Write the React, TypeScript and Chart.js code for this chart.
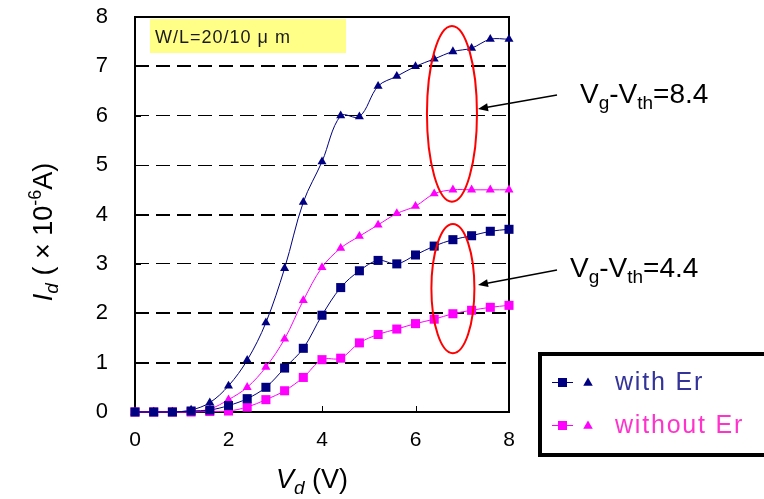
import { useEffect, useRef } from "react";
import { Chart, registerables } from "chart.js";

Chart.register(...registerables);

// Drain voltage Vd (V)
const VD = [0, 0.4, 0.8, 1.2, 1.6, 2.0, 2.4, 2.8, 3.2, 3.6, 4.0, 4.4, 4.8, 5.2, 5.6, 6.0, 6.4, 6.8, 7.2, 7.6, 8.0];
// Id (x10^-6 A), Vg-Vth = 4.4 (squares)
const WITH_ER_44 = [0, 0, 0, 0.02, 0.04, 0.13, 0.27, 0.5, 0.89, 1.29, 1.96, 2.52, 2.86, 3.07, 3.0, 3.18, 3.36, 3.49, 3.57, 3.66, 3.7];
const WITHOUT_ER_44 = [0, 0, 0, 0, 0.01, 0.02, 0.1, 0.25, 0.43, 0.7, 1.06, 1.09, 1.4, 1.57, 1.68, 1.79, 1.88, 1.99, 2.06, 2.12, 2.16];
// Id (x10^-6 A), Vg-Vth = 8.4 (triangles)
const WITH_ER_84 = [0, 0, 0, 0.04, 0.19, 0.53, 1.05, 1.81, 2.91, 4.25, 5.07, 6.0, 5.98, 6.6, 6.8, 7.0, 7.15, 7.3, 7.37, 7.55, 7.55];
const WITHOUT_ER_84 = [0, 0, 0, 0.01, 0.06, 0.25, 0.5, 0.91, 1.48, 2.26, 2.93, 3.32, 3.56, 3.79, 4.02, 4.17, 4.42, 4.5, 4.5, 4.5, 4.5];

const X_TICKS = [0, 2, 4, 6, 8];
const LEGEND_LABELS = ["with Er", "without Er"];
const BOX_LABEL = "W/L=20/10 μ m";

const NAVY = "#000080";
const MAGENTA = "#FF00FF";
const FAMILY = '"Liberation Sans", Arial, sans-serif';

type Seg = { t: string; size: number; italic?: boolean; dy?: number };

function richWidth(ctx: CanvasRenderingContext2D, segs: Seg[]) {
  let w = 0;
  for (const s of segs) {
    ctx.font = `${s.italic ? "italic " : ""}${s.size}px ${FAMILY}`;
    w += ctx.measureText(s.t).width;
  }
  return w;
}

function drawRich(ctx: CanvasRenderingContext2D, segs: Seg[], x: number, y: number, align: "left" | "center") {
  const total = richWidth(ctx, segs);
  let cx = align === "center" ? x - total / 2 : x;
  ctx.textAlign = "left";
  ctx.textBaseline = "alphabetic";
  for (const s of segs) {
    ctx.font = `${s.italic ? "italic " : ""}${s.size}px ${FAMILY}`;
    ctx.fillText(s.t, cx, y + (s.dy || 0));
    cx += ctx.measureText(s.t).width;
  }
}

function arrow(ctx: CanvasRenderingContext2D, x1: number, y1: number, x2: number, y2: number) {
  const ang = Math.atan2(y2 - y1, x2 - x1);
  const hl = 10, hw = 4;
  ctx.strokeStyle = "#000";
  ctx.fillStyle = "#000";
  ctx.lineWidth = 1.5;
  ctx.beginPath();
  ctx.moveTo(x1, y1);
  ctx.lineTo(x2 - Math.cos(ang) * hl * 0.8, y2 - Math.sin(ang) * hl * 0.8);
  ctx.stroke();
  ctx.beginPath();
  ctx.moveTo(x2, y2);
  ctx.lineTo(x2 - Math.cos(ang) * hl - Math.sin(ang) * hw, y2 - Math.sin(ang) * hl + Math.cos(ang) * hw);
  ctx.lineTo(x2 - Math.cos(ang) * hl + Math.sin(ang) * hw, y2 - Math.sin(ang) * hl - Math.cos(ang) * hw);
  ctx.closePath();
  ctx.fill();
}

function marker(ctx: CanvasRenderingContext2D, kind: "rect" | "triangle", x: number, y: number, color: string) {
  ctx.fillStyle = color;
  ctx.beginPath();
  if (kind === "rect") {
    ctx.rect(x - 4.5, y - 4.5, 9, 9);
  } else {
    const r = 5.5;
    ctx.moveTo(x, y - r);
    ctx.lineTo(x + r * 0.866, y + r * 0.5);
    ctx.lineTo(x - r * 0.866, y + r * 0.5);
    ctx.closePath();
  }
  ctx.fill();
}

const decorations = {
  id: "decorations",
  beforeDatasetsDraw(chart: any) {
    const { ctx, chartArea: a, scales } = chart;
    const xs = scales.x, ys = scales.y;
    ctx.save();
    // W/L box
    ctx.fillStyle = "#FFFF88";
    ctx.fillRect(150, 19, 196, 34);
    ctx.fillStyle = "#1a1a1a";
    ctx.font = `18px ${FAMILY}`;
    (ctx as any).letterSpacing = "1px";
    ctx.textAlign = "left";
    ctx.textBaseline = "alphabetic";
    ctx.fillText(BOX_LABEL, 155, 43);
    (ctx as any).letterSpacing = "0px";
    // frame
    ctx.strokeStyle = "#000";
    ctx.lineWidth = 2;
    ctx.strokeRect(a.left, a.top, a.width, a.height);
    // inner tick marks
    ctx.lineWidth = 1;
    for (const v of X_TICKS.slice(1, -1)) {
      const px = Math.round(xs.getPixelForValue(v)) + 0.5;
      ctx.beginPath();
      ctx.moveTo(px, a.bottom);
      ctx.lineTo(px, a.bottom - 6);
      ctx.stroke();
    }
    for (let v = 1; v < 8; v++) {
      const py = Math.round(ys.getPixelForValue(v)) + 0.5;
      ctx.beginPath();
      ctx.moveTo(a.left, py);
      ctx.lineTo(a.left + 6, py);
      ctx.stroke();
    }
    ctx.restore();
  },
  afterDatasetsDraw(chart: any) {
    const { ctx, scales } = chart;
    const xs = scales.x, ys = scales.y;
    ctx.save();
    // ellipses (data coordinates)
    const ell = (cx: number, cy: number, rx: number, ry: number) => {
      const px = xs.getPixelForValue(cx), py = ys.getPixelForValue(cy);
      const prx = xs.getPixelForValue(cx + rx) - px;
      const pry = py - ys.getPixelForValue(cy + ry);
      ctx.strokeStyle = "#FF0000";
      ctx.lineWidth = 2;
      ctx.beginPath();
      ctx.ellipse(px, py, prx, pry, 0, 0, Math.PI * 2);
      ctx.stroke();
    };
    ell(6.78, 6.04, 0.535, 1.78);
    ell(6.8, 2.5, 0.46, 1.31);
    // arrows
    arrow(ctx, 557, 95, 478, 109);
    arrow(ctx, 557, 270, 478, 285);
    // labels
    ctx.fillStyle = "#000";
    drawRich(ctx, [
      { t: "V", size: 28 }, { t: "g", size: 19, dy: 6 }, { t: "-V", size: 28 }, { t: "th", size: 19, dy: 6 }, { t: "=8.4", size: 28 },
    ], 580, 103, "left");
    drawRich(ctx, [
      { t: "V", size: 28 }, { t: "g", size: 19, dy: 6 }, { t: "-V", size: 28 }, { t: "th", size: 19, dy: 6 }, { t: "=4.4", size: 28 },
    ], 570, 277, "left");

    // legend
    ctx.fillStyle = "#fff";
    ctx.fillRect(540, 354, 240, 101);
    ctx.strokeStyle = "#000";
    ctx.lineWidth = 4;
    ctx.strokeRect(540, 354, 240, 101);
    const rows = [
      { y: 382, c: NAVY, tc: "#333399" },
      { y: 425, c: MAGENTA, tc: "#FF33CC" },
    ];
    rows.forEach((r, i) => {
      ctx.strokeStyle = r.c;
      ctx.lineWidth = 1;
      ctx.beginPath();
      ctx.moveTo(552, r.y + 0.5);
      ctx.lineTo(573, r.y + 0.5);
      ctx.stroke();
      marker(ctx, "rect", 562.5, r.y + 0.5, r.c);
      marker(ctx, "triangle", 588, r.y + 1, r.c);
      ctx.fillStyle = r.tc;
      ctx.font = `25px ${FAMILY}`;
      (ctx as any).letterSpacing = "1.8px";
      ctx.textAlign = "left";
      ctx.textBaseline = "alphabetic";
      ctx.fillText(LEGEND_LABELS[i], 615, r.y + 8);
      (ctx as any).letterSpacing = "0px";
    });

    // axis titles
    ctx.fillStyle = "#000";
    drawRich(ctx, [
      { t: "V", size: 27, italic: true }, { t: "d", size: 19, italic: true, dy: 6 }, { t: " (V)", size: 27 },
    ], 312, 488, "center");
    ctx.translate(52, 232);
    ctx.rotate(-Math.PI / 2);
    drawRich(ctx, [
      { t: "I", size: 27, italic: true }, { t: "d", size: 19, italic: true, dy: 6 }, { t: " ( × 10", size: 27 },
      { t: "-6", size: 18, dy: -11 }, { t: "A)", size: 27 },
    ], 0, 0, "center");
    ctx.restore();
  },
};

export default function App() {
  const ref = useRef<HTMLCanvasElement>(null);
  useEffect(() => {
    const canvas = ref.current!;
    const mk = (vals: number[], color: string, style: "rect" | "triangle") => ({
      data: VD.map((x, i) => ({ x, y: vals[i] })),
      showLine: true,
      borderColor: color,
      backgroundColor: color,
      borderWidth: 1,
      tension: 0.35,
      pointStyle: style,
      pointRadius: style === "rect" ? 6.4 : 5.2,
      pointBorderWidth: 0,
      pointBackgroundColor: color,
      clip: false as any,
    });
    const chart = new Chart(canvas, {
      type: "scatter",
      data: {
        datasets: [
          mk(WITH_ER_44, NAVY, "rect"),
          mk(WITHOUT_ER_44, MAGENTA, "rect"),
          mk(WITH_ER_84, NAVY, "triangle"),
          mk(WITHOUT_ER_84, MAGENTA, "triangle"),
        ],
      },
      options: {
        animation: false,
        responsive: false,
        layout: { padding: { top: 17, right: 255, left: 0, bottom: 0 }, autoPadding: false },
        plugins: { legend: { display: false }, tooltip: { enabled: false } },
        scales: {
          x: {
            type: "linear",
            min: 0,
            max: 8,
            afterFit: (s: any) => { s.height = 87; },
            afterBuildTicks: (s: any) => { s.ticks = X_TICKS.map((v) => ({ value: v })); },
            ticks: { padding: 0, font: { size: 21, family: FAMILY }, color: "#000", maxRotation: 0 },
            grid: { display: true, drawOnChartArea: false, drawTicks: true, tickLength: 16, tickColor: "rgba(0,0,0,0)" },
            border: { display: false },
          },
          y: {
            min: 0,
            max: 8,
            afterFit: (s: any) => { s.width = 135; },
            ticks: { stepSize: 1, padding: 0, font: { size: 22, family: FAMILY }, color: "#000" },
            grid: {
              drawTicks: true,
              tickLength: 27,
              tickColor: "rgba(0,0,0,0)",
              color: (c: any) => (c.tick && (c.tick.value === 0 || c.tick.value === 8) ? "rgba(0,0,0,0)" : "#000"),
              lineWidth: (c: any) => (c.tick && [1, 2, 4, 7].includes(c.tick.value) ? 2 : 1),
            },
            border: { display: false, dash: [14, 7] },
          },
        },
      },
      plugins: [decorations],
    } as any);
    return () => chart.destroy();
  }, []);
  return (
    <div style={{ position: "fixed", left: 0, top: 0, width: 764, height: 499, background: "#fff" }}>
      <canvas ref={ref} width={764} height={499} style={{ display: "block" }} />
    </div>
  );
}
